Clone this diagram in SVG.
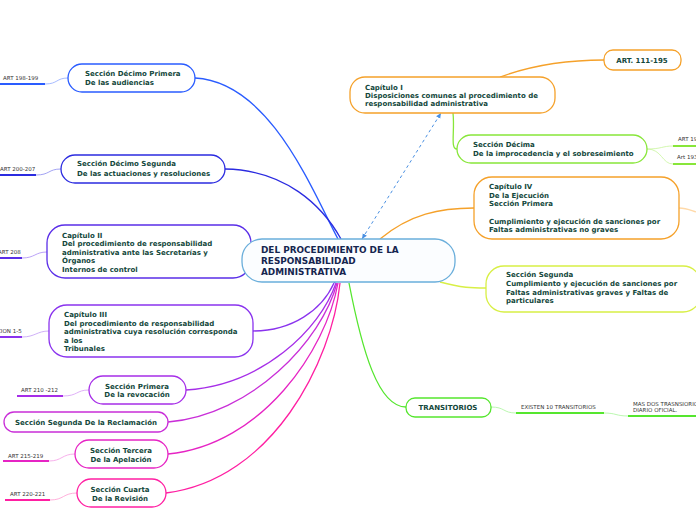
<svg xmlns="http://www.w3.org/2000/svg" width="696" height="520" viewBox="0 0 696 520">
<style>
.n{fill:#ffffff;stroke-width:1.3}
.t{font-family:"DejaVu Sans",Verdana,sans-serif;font-weight:bold;font-size:7px;fill:#13473b}
.c{font-family:"DejaVu Sans",Verdana,sans-serif;font-weight:bold;font-size:8.9px;fill:#15254f}
.l{font-family:"DejaVu Sans",Verdana,sans-serif;font-size:5.5px;fill:#333333}
.e{fill:none;stroke-width:1.3}
.u{fill:none;stroke-width:2}
.s{fill:none;stroke-width:0.8}
</style>
<defs>
<marker id="ah" viewBox="0 0 10 10" refX="9" refY="5" markerWidth="6" markerHeight="6" orient="auto-start-reverse">
<path d="M0,1 L9,5 L0,9 z" fill="#4a90e2"/>
</marker>
</defs>
<rect width="696" height="520" fill="#ffffff"/>
<g id="connectors">
<path class="e" stroke="#2a5cff" d="M195,78 C270,82 312,190 338,239"/>
<path class="e" stroke="#2b2be0" d="M225,169 C285,170 322,205 341,239"/>
<path class="e" stroke="#5a2ee8" d="M251,252 C300,252 328,262 335,283"/>
<path class="e" stroke="#8a33ee" d="M253,331 C292,331 322,310 334,283"/>
<path class="e" stroke="#a62ee8" d="M186,390 C262,385 320,330 336,283"/>
<path class="e" stroke="#c92ed8" d="M168,422 C252,415 322,340 337,283"/>
<path class="e" stroke="#e624c4" d="M168,454 C262,445 326,350 338,283"/>
<path class="e" stroke="#ff1fa2" d="M166,493 C272,480 332,362 340,283"/>
<path class="e" stroke="#f5a12a" d="M380,239 C410,214 440,208 474,208"/>
<path class="e" stroke="#d8ef45" d="M440,282 C462,288 472,288 486,288"/>
<path class="e" stroke="#55e62e" d="M349,283 C362,350 378,407 406,407"/>
<path class="e" stroke="#f5a12a" d="M500,77 C530,66 562,60 604,60"/>
<path class="e" stroke="#88e63a" d="M453,113 C455,132 450,149 457,149"/>
<path class="e" stroke="#ffd9a8" d="M679,208 C686,208 690,210 696,212"/>
<path fill="none" stroke="#4a90e2" stroke-width="1" stroke-dasharray="3,3" marker-start="url(#ah)" marker-end="url(#ah)" d="M362,239 L441,113"/>
<path class="s" stroke="#8fa8ff" d="M45,84 C58,84 56,78 68,78"/>
<path class="u" stroke="#2a5cff" d="M0,84 L45,84"/>
<path class="s" stroke="#8c8cf0" d="M36,175 C50,175 48,169 61,169"/>
<path class="u" stroke="#2b2be0" d="M0,175 L36,175"/>
<path class="s" stroke="#aa8cf5" d="M22,258 C35,258 35,252 47,252"/>
<path class="u" stroke="#5a2ee8" d="M0,258 L22,258"/>
<path class="s" stroke="#c39cf5" d="M22,337 C35,337 37,331 49,331"/>
<path class="u" stroke="#8a33ee" d="M0,337 L22,337"/>
<path class="s" stroke="#d79cf5" d="M63,396 C78,396 76,390 89,390"/>
<path class="u" stroke="#a62ee8" d="M17,396 L63,396"/>
<path class="s" stroke="#f59ce6" d="M49,461 C62,461 62,454 75,454"/>
<path class="u" stroke="#e624c4" d="M3,461 L49,461"/>
<path class="s" stroke="#ff9cd2" d="M50,500 C64,500 63,493 77,493"/>
<path class="u" stroke="#ff1fa2" d="M5,500 L50,500"/>
<path class="s" stroke="#c8f59c" d="M647,149 C662,149 662,146 673,146"/>
<path class="s" stroke="#c8f59c" d="M647,149 C662,149 662,164 673,164"/>
<path class="u" stroke="#88e63a" d="M673,146 L696,146"/>
<path class="u" stroke="#88e63a" d="M673,164 L696,164"/>
<path class="s" stroke="#aaf59c" d="M491,407 C505,407 503,413 516,413"/>
<path class="u" stroke="#55e62e" d="M516,413 L604,413"/>
<path class="s" stroke="#aaf59c" d="M604,413 C616,413 616,416 628,416"/>
<path class="u" stroke="#55e62e" d="M628,416 L696,416"/>
</g>
<g id="n-dprimera">
<rect class="n" stroke="#2a5cff" x="68" y="64" width="127" height="28" rx="14"/>
<text class="t" x="85" y="76">Sección Décimo Primera</text>
<text class="t" x="85" y="85">De las audiencias</text>
</g>
<g id="n-dsegunda">
<rect class="n" stroke="#2b2be0" x="61" y="155" width="164" height="28" rx="14"/>
<text class="t" x="77" y="166">Sección Décimo Segunda</text>
<text class="t" x="77" y="176">De las actuaciones y resoluciones</text>
</g>
<g id="n-cap2">
<rect class="n" stroke="#5a2ee8" x="47" y="225" width="204" height="53" rx="18"/>
<text class="t" x="62" y="238">Capítulo II</text>
<text class="t" x="62" y="246">Del procedimiento de responsabilidad</text>
<text class="t" x="62" y="255">administrativa ante las Secretarías y</text>
<text class="t" x="62" y="263">Órganos</text>
<text class="t" x="62" y="272">Internos de control</text>
</g>
<g id="n-cap3">
<rect class="n" stroke="#8a33ee" x="49" y="305" width="204" height="52" rx="18"/>
<text class="t" x="64" y="317">Capítulo III</text>
<text class="t" x="64" y="326">Del procedimiento de responsabilidad</text>
<text class="t" x="64" y="334">administrativa cuya resolución corresponda</text>
<text class="t" x="64" y="343">a los</text>
<text class="t" x="64" y="351">Tribunales</text>
</g>
<g id="n-sprimera">
<rect class="n" stroke="#a62ee8" x="89" y="376" width="97" height="28" rx="14"/>
<text class="t" x="137" y="389" text-anchor="middle">Sección Primera</text>
<text class="t" x="137" y="397" text-anchor="middle">De la revocación</text>
</g>
<g id="n-ssegunda">
<rect class="n" stroke="#c92ed8" x="4" y="412" width="164" height="20" rx="10"/>
<text class="t" x="86" y="425" text-anchor="middle">Sección Segunda De la Reclamación</text>
</g>
<g id="n-stercera">
<rect class="n" stroke="#e624c4" x="75" y="440" width="93" height="28" rx="14"/>
<text class="t" x="121" y="453" text-anchor="middle">Sección Tercera</text>
<text class="t" x="121" y="462" text-anchor="middle">De la Apelación</text>
</g>
<g id="n-scuarta">
<rect class="n" stroke="#ff1fa2" x="77" y="479" width="89" height="28" rx="14"/>
<text class="t" x="120" y="492" text-anchor="middle">Sección Cuarta</text>
<text class="t" x="120" y="501" text-anchor="middle">De la Revisión</text>
</g>
<g id="n-cap1">
<rect class="n" stroke="#f5a12a" x="350" y="77" width="205" height="36" rx="15"/>
<text class="t" x="365" y="90">Capítulo I</text>
<text class="t" x="365" y="98">Disposiciones comunes al procedimiento de</text>
<text class="t" x="365" y="106">responsabilidad administrativa</text>
</g>
<g id="n-art111">
<rect class="n" stroke="#f5a12a" x="604" y="50" width="77" height="20" rx="9"/>
<text class="t" x="642" y="63" text-anchor="middle">ART. 111-195</text>
</g>
<g id="n-decima">
<rect class="n" stroke="#88e63a" x="457" y="135" width="190" height="28" rx="14"/>
<text class="t" x="473" y="147">Sección Décima</text>
<text class="t" x="473" y="156">De la improcedencia y el sobreseimiento</text>
</g>
<g id="n-cap4">
<rect class="n" stroke="#f5a12a" x="474" y="177" width="205" height="62" rx="18"/>
<text class="t" x="489" y="189">Capítulo IV</text>
<text class="t" x="489" y="198">De la Ejecución</text>
<text class="t" x="489" y="206">Sección Primera</text>
<text class="t" x="489" y="224">Cumplimiento y ejecución de sanciones por</text>
<text class="t" x="489" y="232">Faltas administrativas no graves</text>
</g>
<g id="n-seg2">
<rect class="n" stroke="#d8ef45" x="486" y="266" width="215" height="46" rx="18"/>
<text class="t" x="506" y="277">Sección Segunda</text>
<text class="t" x="506" y="286">Cumplimiento y ejecución de sanciones por</text>
<text class="t" x="506" y="295">Faltas administrativas graves y Faltas de</text>
<text class="t" x="506" y="303">particulares</text>
</g>
<g id="n-trans">
<rect class="n" stroke="#55e62e" x="406" y="398" width="85" height="19" rx="9"/>
<text class="t" x="448" y="410" text-anchor="middle">TRANSITORIOS</text>
</g>
<g id="n-center">
<rect fill="#fbfdff" stroke="#6aaedb" stroke-width="1.3" x="242" y="239" width="213" height="43" rx="20"/>
<text class="c" x="261" y="253">DEL PROCEDIMIENTO DE LA</text>
<text class="c" x="261" y="264">RESPONSABILIDAD</text>
<text class="c" x="261" y="275">ADMINISTRATIVA</text>
</g>
<g id="leaves">
<text class="l" x="3" y="80">ART 198-199</text>
<text class="l" x="0" y="171">ART 200-207</text>
<text class="l" x="-2" y="254">ART 208</text>
<text class="l" x="-3" y="333">CION 1-5</text>
<text class="l" x="21" y="392">ART 210 -212</text>
<text class="l" x="8" y="458">ART 215-219</text>
<text class="l" x="10" y="496">ART 220-221</text>
<text class="l" x="678" y="141">ART 192</text>
<text class="l" x="677" y="159">Art 193</text>
<text class="l" x="521" y="409">EXISTEN 10 TRANSITORIOS</text>
<text class="l" x="633" y="406">MAS DOS TRASNSIORIOS</text>
<text class="l" x="633" y="412">DIARIO OFICIAL.</text>
</g>
</svg>
